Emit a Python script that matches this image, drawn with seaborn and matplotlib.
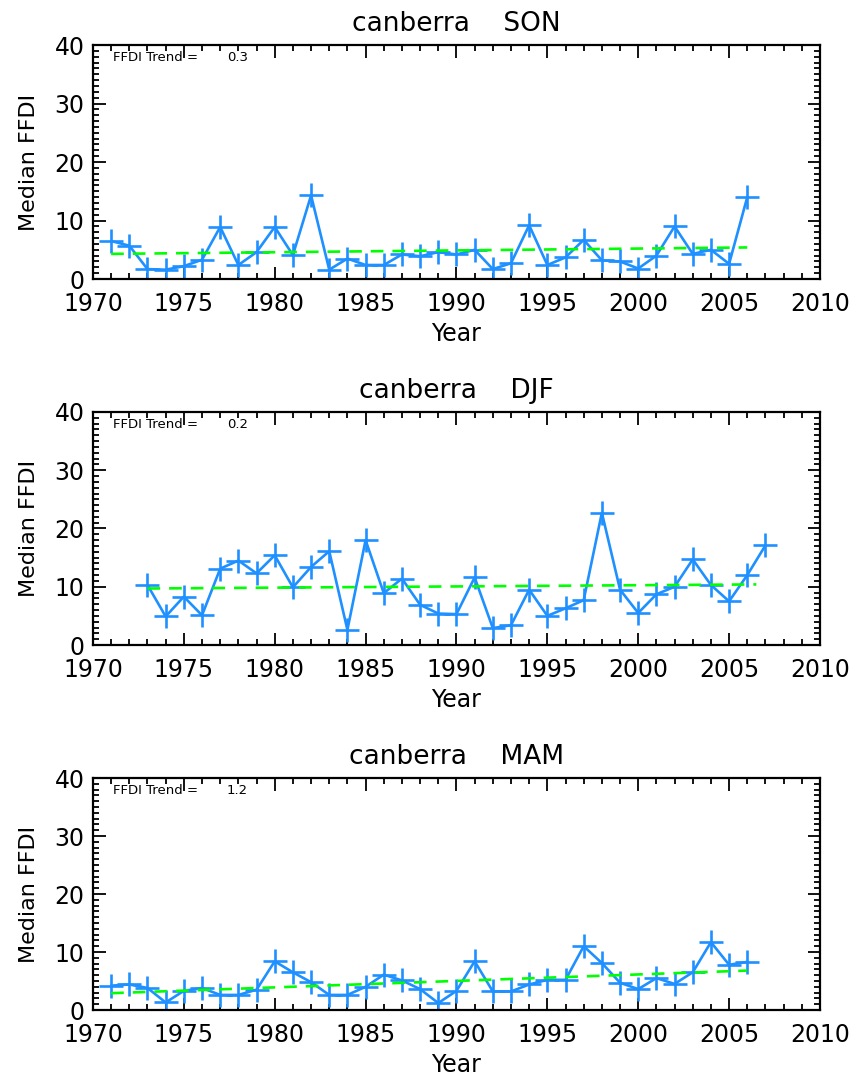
import matplotlib
matplotlib.use('Agg')
import matplotlib.pyplot as plt
import seaborn as sns
import pandas as pd
from matplotlib.ticker import MultipleLocator

# Median FFDI per season, Canberra
son_first, son_last = 1971, 2006
son_ffdi = [6.5, 5.7, 1.7, 1.6, 2.2, 3.3, 8.9, 2.4, 4.6, 8.9,
            4.1, 14.3, 1.6, 3.5, 2.4, 2.4, 4.2, 3.9, 4.6, 4.2,
            5.0, 1.7, 2.7, 9.2, 2.4, 3.7, 6.7, 3.2, 3.0, 1.8,
            4.0, 9.0, 4.3, 5.0, 2.6, 14.0]

djf_first, djf_last = 1973, 2007
djf_ffdi = [10.3, 4.9, 8.3, 5.1, 13.1, 14.5, 12.3, 15.4, 9.9, 13.4,
            16.1, 2.6, 18.0, 8.9, 11.4, 6.9, 5.4, 5.3, 11.6, 2.9,
            3.4, 9.5, 5.0, 6.3, 7.7, 22.7, 9.5, 5.5, 8.7, 10.0,
            14.7, 10.3, 7.5, 12.0, 17.1]

mam_first, mam_last = 1971, 2006
mam_ffdi = [4.2, 4.4, 3.8, 1.3, 3.3, 3.8, 2.6, 2.6, 3.5, 8.4,
            6.5, 4.8, 2.6, 2.6, 4.0, 6.1, 5.1, 3.6, 1.2, 3.3,
            8.4, 3.2, 3.2, 4.4, 5.2, 5.2, 11.0, 8.1, 4.7, 3.6,
            5.5, 4.5, 6.5, 11.7, 7.8, 8.3]

# trend line end points (year, value) and trend per decade
son_trend_x = [1971, 2006]
son_trend_y = [4.3, 5.4]
djf_trend_x = [1973, 2006.5]
djf_trend_y = [9.7, 10.4]
mam_trend_x = [1971, 2006]
mam_trend_y = [2.9, 6.8]
trend_values = ['0.3', '0.2', '1.2']
seasons = ['SON', 'DJF', 'MAM']
station = 'canberra'

sns.set_style('ticks', {'text.color': 'black', 'axes.labelcolor': 'black',
                        'xtick.color': 'black', 'ytick.color': 'black',
                        'axes.edgecolor': 'black'})
plt.rcParams['font.family'] = ['DejaVu Sans']

fig = plt.figure(figsize=(8.56, 10.77), dpi=100)
# axes boxes in figure fractions
boxes = [(0.1086, 0.7409, 0.8493, 0.2173),
         (0.1086, 0.4011, 0.8493, 0.2164),
         (0.1086, 0.0622, 0.8493, 0.2154)]

panels = [
    (son_first, son_last, son_ffdi, son_trend_x, son_trend_y),
    (djf_first, djf_last, djf_ffdi, djf_trend_x, djf_trend_y),
    (mam_first, mam_last, mam_ffdi, mam_trend_x, mam_trend_y),
]

for i, (first, last, vals, tx, ty) in enumerate(panels):
    ax = fig.add_axes(boxes[i])
    df = pd.DataFrame({'year': list(range(first, last + 1)), 'ffdi': vals})
    sns.lineplot(data=df, x='year', y='ffdi', ax=ax, color='#1e90ff',
                 linewidth=1.9, marker='+', markersize=17,
                 markeredgewidth=1.9, markeredgecolor='#1e90ff')
    ax.plot(tx, ty, color='#00ff00', linewidth=1.9, dashes=(4.8, 3.4))

    ax.set_xlim(1970, 2010)
    ax.set_ylim(0, 40)
    ax.xaxis.set_major_locator(MultipleLocator(5))
    ax.xaxis.set_minor_locator(MultipleLocator(1))
    ax.yaxis.set_major_locator(MultipleLocator(10))
    ax.yaxis.set_minor_locator(MultipleLocator(1))
    ax.tick_params(which='both', direction='in', top=True, right=True,
                   width=1.3, color='black')
    ax.tick_params(which='major', length=9, labelsize=17)
    ax.tick_params(axis='x', which='major', pad=9)
    ax.tick_params(axis='y', which='major', pad=6)
    ax.tick_params(which='minor', length=4.5)
    for sp in ax.spines.values():
        sp.set_visible(True)
        sp.set_linewidth(1.6)
        sp.set_color('black')

    ax.set_title(f'{station}    {seasons[i]}', fontsize=19, pad=10)
    ax.set_xlabel('Year', fontsize=17, labelpad=5)
    ax.set_ylabel('Median FFDI', fontsize=16, labelpad=11)
    ax.text(0.027, 0.946, 'FFDI Trend =', transform=ax.transAxes,
            fontsize=9.5, va='center', ha='left')
    ax.text(0.184, 0.946, trend_values[i], transform=ax.transAxes,
            fontsize=9.5, va='center', ha='left')

fig.savefig('out.png', dpi=100)
plt.close(fig)
